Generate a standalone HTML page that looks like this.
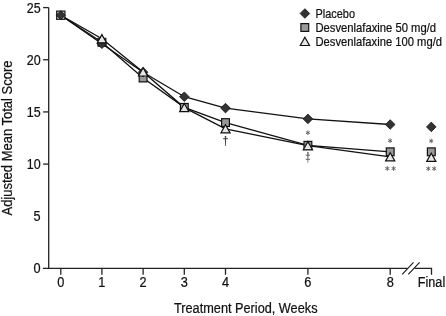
<!DOCTYPE html>
<html><head><meta charset="utf-8"><style>
html,body{margin:0;padding:0;background:#fff;}
svg{display:block;will-change:transform;}
text{font-family:"Liberation Sans",sans-serif;fill:#111;stroke:#111;stroke-width:0.22px;}
.s{font-size:10px;fill:#555;}
</style></head><body>
<svg width="446" height="316" viewBox="0 0 446 316">
<path d="M48.7 7.6V268.4" stroke="#222" stroke-width="1.3" fill="none"/>
<path d="M42.9 268.4H407.5M414.5 268.4H431.5V274.8" stroke="#222" stroke-width="1.3" fill="none"/>
<path d="M402.2 274.4L413.5 262.4M408.3 274.4L419.6 262.4" stroke="#222" stroke-width="1.2" fill="none"/>
<path d="M43.1 7.60H48.7" stroke="#222" stroke-width="1.3"/>
<path d="M43.1 59.76H48.7" stroke="#222" stroke-width="1.3"/>
<path d="M43.1 111.92H48.7" stroke="#222" stroke-width="1.3"/>
<path d="M43.1 164.08H48.7" stroke="#222" stroke-width="1.3"/>
<path d="M60.80 268.4V274.8" stroke="#222" stroke-width="1.3"/>
<path d="M101.90 268.4V274.8" stroke="#222" stroke-width="1.3"/>
<path d="M143.10 268.4V274.8" stroke="#222" stroke-width="1.3"/>
<path d="M184.30 268.4V274.8" stroke="#222" stroke-width="1.3"/>
<path d="M225.50 268.4V274.8" stroke="#222" stroke-width="1.3"/>
<path d="M307.90 268.4V274.8" stroke="#222" stroke-width="1.3"/>
<path d="M390.20 268.4V274.8" stroke="#222" stroke-width="1.3"/>
<text x="40.6" y="13" text-anchor="end" textLength="13.9" lengthAdjust="spacingAndGlyphs" font-size="13.8">25</text>
<text x="40.6" y="65" text-anchor="end" textLength="13.9" lengthAdjust="spacingAndGlyphs" font-size="13.8">20</text>
<text x="40.6" y="117" text-anchor="end" textLength="13.9" lengthAdjust="spacingAndGlyphs" font-size="13.8">15</text>
<text x="40.6" y="169" text-anchor="end" textLength="13.9" lengthAdjust="spacingAndGlyphs" font-size="13.8">10</text>
<text x="40.6" y="221" text-anchor="end" textLength="7.1" lengthAdjust="spacingAndGlyphs" font-size="13.8">5</text>
<text x="40.6" y="273" text-anchor="end" textLength="7.1" lengthAdjust="spacingAndGlyphs" font-size="13.8">0</text>
<text x="60.80" y="287.0" text-anchor="middle" textLength="7.1" lengthAdjust="spacingAndGlyphs" font-size="13.8">0</text>
<text x="101.90" y="287.0" text-anchor="middle" textLength="7.1" lengthAdjust="spacingAndGlyphs" font-size="13.8">1</text>
<text x="143.10" y="287.0" text-anchor="middle" textLength="7.1" lengthAdjust="spacingAndGlyphs" font-size="13.8">2</text>
<text x="184.30" y="287.0" text-anchor="middle" textLength="7.1" lengthAdjust="spacingAndGlyphs" font-size="13.8">3</text>
<text x="225.50" y="287.0" text-anchor="middle" textLength="7.1" lengthAdjust="spacingAndGlyphs" font-size="13.8">4</text>
<text x="307.90" y="287.0" text-anchor="middle" textLength="7.1" lengthAdjust="spacingAndGlyphs" font-size="13.8">6</text>
<text x="390.20" y="287.0" text-anchor="middle" textLength="7.1" lengthAdjust="spacingAndGlyphs" font-size="13.8">8</text>
<text x="417.8" y="286.8" textLength="27.4" lengthAdjust="spacingAndGlyphs" font-size="13.8">Final</text>
<text x="174.0" y="312.5" textLength="143.5" lengthAdjust="spacingAndGlyphs" font-size="13.8">Treatment Period, Weeks</text>
<text transform="translate(12 215.5) rotate(-90)" font-size="13.8" textLength="155" lengthAdjust="spacingAndGlyphs">Adjusted Mean Total Score</text>
<text x="315.5" y="17.6" textLength="39.5" lengthAdjust="spacingAndGlyphs" font-size="11.9">Placebo</text>
<text x="315.5" y="31.6" textLength="120.6" lengthAdjust="spacingAndGlyphs" font-size="11.9">Desvenlafaxine 50 mg/d</text>
<text x="315.5" y="45.5" textLength="126.5" lengthAdjust="spacingAndGlyphs" font-size="11.9">Desvenlafaxine 100 mg/d</text>
<path d="M304.90 8.70L309.70 13.50L304.90 18.30L300.10 13.50Z" fill="#333" stroke="#111" stroke-width="0.8"/>
<rect x="300.90" y="23.60" width="7.80" height="7.80" fill="#999" stroke="#111" stroke-width="1.2"/>
<path d="M304.90 37.30L309.50 45.50L300.30 45.50Z" fill="#e6e6e6" stroke="#111" stroke-width="1.2" stroke-linejoin="miter"/>
<polyline points="60.80,15.20 101.90,43.80 143.10,72.20 184.30,96.70 225.50,108.10 307.90,118.90 390.20,124.50" fill="none" stroke="#111" stroke-width="1.3"/>
<polyline points="60.80,15.20 101.90,42.30 143.10,78.00 184.30,107.40 225.50,122.60 307.90,145.30 390.20,151.80" fill="none" stroke="#111" stroke-width="1.3"/>
<polyline points="60.80,15.20 101.90,38.70 143.10,71.90 184.30,107.60 225.50,128.80 307.90,145.70 390.20,156.80" fill="none" stroke="#111" stroke-width="1.3"/>
<rect x="56.70" y="11.10" width="8.20" height="8.20" fill="#d4d4d4" stroke="#111" stroke-width="1.2"/>
<path d="M60.80 10.70L65.30 15.20L60.80 19.70L56.30 15.20Z" fill="#333" stroke="#111" stroke-width="0.8"/>
<rect x="98.00" y="38.40" width="7.80" height="7.80" fill="#999" stroke="#111" stroke-width="1.2"/>
<path d="M101.90 39.00L106.70 43.80L101.90 48.60L97.10 43.80Z" fill="#333" stroke="#111" stroke-width="0.8"/>
<path d="M101.90 34.60L106.50 42.80L97.30 42.80Z" fill="#e6e6e6" stroke="#111" stroke-width="1.2" stroke-linejoin="miter"/>
<rect x="139.20" y="74.10" width="7.80" height="7.80" fill="#999" stroke="#111" stroke-width="1.2"/>
<path d="M143.10 67.40L147.90 72.20L143.10 77.00L138.30 72.20Z" fill="#333" stroke="#111" stroke-width="0.8"/>
<path d="M143.10 67.80L147.70 76.00L138.50 76.00Z" fill="#e6e6e6" stroke="#111" stroke-width="1.2" stroke-linejoin="miter"/>
<rect x="180.40" y="103.50" width="7.80" height="7.80" fill="#999" stroke="#111" stroke-width="1.2"/>
<path d="M184.30 91.90L189.10 96.70L184.30 101.50L179.50 96.70Z" fill="#333" stroke="#111" stroke-width="0.8"/>
<path d="M184.30 103.50L188.90 111.70L179.70 111.70Z" fill="#e6e6e6" stroke="#111" stroke-width="1.2" stroke-linejoin="miter"/>
<rect x="221.60" y="118.70" width="7.80" height="7.80" fill="#999" stroke="#111" stroke-width="1.2"/>
<path d="M225.50 103.30L230.30 108.10L225.50 112.90L220.70 108.10Z" fill="#333" stroke="#111" stroke-width="0.8"/>
<path d="M225.50 124.70L230.10 132.90L220.90 132.90Z" fill="#e6e6e6" stroke="#111" stroke-width="1.2" stroke-linejoin="miter"/>
<rect x="304.00" y="141.40" width="7.80" height="7.80" fill="#999" stroke="#111" stroke-width="1.2"/>
<path d="M307.90 114.10L312.70 118.90L307.90 123.70L303.10 118.90Z" fill="#333" stroke="#111" stroke-width="0.8"/>
<path d="M307.90 141.60L312.50 149.80L303.30 149.80Z" fill="#e6e6e6" stroke="#111" stroke-width="1.2" stroke-linejoin="miter"/>
<rect x="386.30" y="147.90" width="7.80" height="7.80" fill="#999" stroke="#111" stroke-width="1.2"/>
<path d="M390.20 119.70L395.00 124.50L390.20 129.30L385.40 124.50Z" fill="#333" stroke="#111" stroke-width="0.8"/>
<path d="M390.20 152.70L394.80 160.90L385.60 160.90Z" fill="#e6e6e6" stroke="#111" stroke-width="1.2" stroke-linejoin="miter"/>
<rect x="427.40" y="147.90" width="7.80" height="7.80" fill="#999" stroke="#111" stroke-width="1.2"/>
<path d="M431.30 122.10L436.10 126.90L431.30 131.70L426.50 126.90Z" fill="#333" stroke="#111" stroke-width="0.8"/>
<path d="M431.30 153.20L435.90 161.40L426.70 161.40Z" fill="#e6e6e6" stroke="#111" stroke-width="1.2" stroke-linejoin="miter"/>
<path d="M224.75 136L226.25 136L225.85 146L225.15 146Z" fill="#444"/><rect x="223.10" y="138.20" width="4.80" height="1" fill="#444"/>
<path d="M307.90 130.40L307.90 135.00M305.91 131.55L309.89 133.85M309.89 131.55L305.91 133.85" stroke="#666" stroke-width="1.0" fill="none"/>
<path d="M307.15 152L308.65 152L308.25 162.8L307.55 162.8Z" fill="#666"/><rect x="305.70" y="154.70" width="4.40" height="1" fill="#666"/><rect x="305.70" y="158.80" width="4.40" height="1" fill="#666"/>
<path d="M390.10 138.40L390.10 143.00M388.11 139.55L392.09 141.85M392.09 139.55L388.11 141.85" stroke="#666" stroke-width="1.0" fill="none"/>
<path d="M387.30 166.20L387.30 170.80M385.31 167.35L389.29 169.65M389.29 167.35L385.31 169.65" stroke="#666" stroke-width="1.0" fill="none"/>
<path d="M393.60 166.20L393.60 170.80M391.61 167.35L395.59 169.65M395.59 167.35L391.61 169.65" stroke="#666" stroke-width="1.0" fill="none"/>
<path d="M431.20 138.60L431.20 143.20M429.21 139.75L433.19 142.05M433.19 139.75L429.21 142.05" stroke="#666" stroke-width="1.0" fill="none"/>
<path d="M428.30 166.30L428.30 170.90M426.31 167.45L430.29 169.75M430.29 167.45L426.31 169.75" stroke="#666" stroke-width="1.0" fill="none"/>
<path d="M434.20 166.30L434.20 170.90M432.21 167.45L436.19 169.75M436.19 167.45L432.21 169.75" stroke="#666" stroke-width="1.0" fill="none"/>
</svg>
</body></html>
